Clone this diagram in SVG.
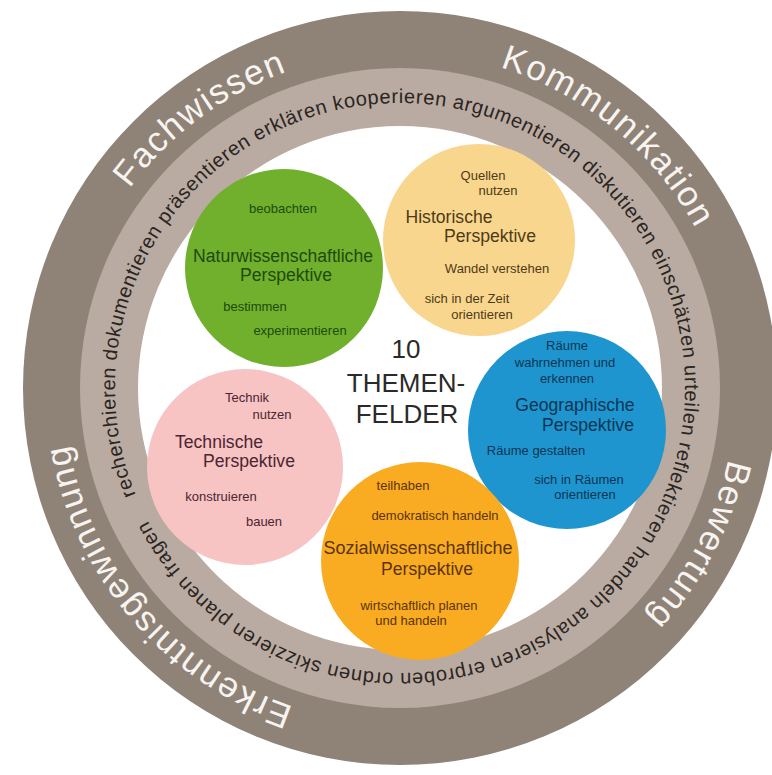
<svg xmlns="http://www.w3.org/2000/svg" width="772" height="775" viewBox="0 0 772 775">
<style>
.bg { fill: #ffffff; }
.ring-outer { fill: #8f8277; }
.ring-inner { fill: #b9aba1; }
.core { fill: #ffffff; }
.big { font-family: "Liberation Sans", Arial, sans-serif; font-size: 35px; fill: #f7f4f1; letter-spacing: 1.5px; }
.verbs { font-family: "Liberation Sans", Arial, sans-serif; font-size: 20px; fill: #2b2522; letter-spacing: 0.6px; }
.t { font-family: "Liberation Sans", Arial, sans-serif; text-anchor: middle; }
.h { font-size: 17.6px; }
.s { font-size: 13px; }
.center { font-family: "Liberation Sans", Arial, sans-serif; font-size: 26px; fill: #2a2a2a; text-anchor: middle; }
#nawi circle { fill: #70b02d; } #nawi text { fill: #1e4a0c; }
#hist circle { fill: #f9d68d; } #hist text { fill: #4d3b17; }
#geo circle { fill: #1e95cf; } #geo text { fill: #0b3553; }
#tech circle { fill: #f7c3c3; } #tech text { fill: #4b2632; }
#sozi circle { fill: #f9ab22; } #sozi text { fill: #5b3408; }
</style>
<defs>
<path id="pOuter" d="M400,724 A336,336 0 1 1 400,52 A336,336 0 1 1 400,724"/>
<path id="pInner" d="M400,673 A285,285 0 1 1 400,103 A285,285 0 1 1 400,673 A285,285 0 1 1 400,103 A285,285 0 1 1 400,673"/>
</defs>
<rect class="bg" x="0" y="0" width="772" height="775"/>
<g id="rings">
<circle class="ring-outer" cx="400" cy="388" r="377"/>
<circle class="ring-inner" cx="400" cy="388" r="320"/>
<circle class="core" cx="400" cy="388" r="262"/>
<text class="big" text-anchor="middle"><textPath href="#pOuter" startOffset="841">Fachwissen</textPath></text>
<text class="big" text-anchor="middle"><textPath href="#pOuter" startOffset="1287">Kommunikation</textPath></text>
<text class="big" text-anchor="middle"><textPath href="#pOuter" startOffset="1745">Bewertung</textPath></text>
<text class="big" text-anchor="middle"><textPath href="#pOuter" startOffset="290">Erkenntnisgewinnung</textPath></text>
<text class="verbs"><textPath href="#pInner" startOffset="338.2">recherchieren dokumentieren präsentieren erklären kooperieren argumentieren diskutieren einschätzen urteilen reflektieren handeln analysieren erproben ordnen skizzieren planen fragen</textPath></text>
</g>
<g id="nawi">
<circle cx="284" cy="268" r="99"/>
<text class="t s" x="283" y="213">beobachten</text>
<text class="t h" x="283" y="262">Naturwissenschaftliche</text>
<text class="t h" x="286" y="281">Perspektive</text>
<text class="t s" x="255" y="311">bestimmen</text>
<text class="t s" x="300" y="335">experimentieren</text>
</g>
<g id="hist">
<circle cx="479" cy="240" r="96"/>
<text class="t s" x="483" y="180">Quellen</text>
<text class="t s" x="498" y="195">nutzen</text>
<text class="t h" x="449" y="223">Historische</text>
<text class="t h" x="490" y="242">Perspektive</text>
<text class="t s" x="497" y="273">Wandel verstehen</text>
<text class="t s" x="467" y="303">sich in der Zeit</text>
<text class="t s" x="482" y="319">orientieren</text>
</g>
<g id="geo">
<circle cx="567" cy="430" r="99"/>
<text class="t s" x="567" y="350">Räume</text>
<text class="t s" x="565" y="367">wahrnehmen und</text>
<text class="t s" x="567" y="383">erkennen</text>
<text class="t h" x="575" y="411">Geographische</text>
<text class="t h" x="588" y="431">Perspektive</text>
<text class="t s" x="536" y="455">Räume gestalten</text>
<text class="t s" x="579" y="484">sich in Räumen</text>
<text class="t s" x="585" y="499">orientieren</text>
</g>
<g id="tech">
<circle cx="245" cy="467" r="98"/>
<text class="t s" x="247" y="402">Technik</text>
<text class="t s" x="272" y="419">nutzen</text>
<text class="t h" x="219" y="448">Technische</text>
<text class="t h" x="249" y="467">Perspektive</text>
<text class="t s" x="221" y="501">konstruieren</text>
<text class="t s" x="264" y="526">bauen</text>
</g>
<g id="sozi">
<circle cx="420" cy="561" r="99"/>
<text class="t s" x="403" y="490">teilhaben</text>
<text class="t s" x="435" y="520">demokratisch handeln</text>
<text class="t h" x="418" y="554" style="font-size:18px">Sozialwissenschaftliche</text>
<text class="t h" x="427" y="575">Perspektive</text>
<text class="t s" x="419" y="610">wirtschaftlich planen</text>
<text class="t s" x="411" y="625">und handeln</text>
</g>
<g id="center">
<text class="center" x="406" y="358">10</text>
<text class="center" x="406" y="392">THEMEN-</text>
<text class="center" x="407" y="423">FELDER</text>
</g>
</svg>
